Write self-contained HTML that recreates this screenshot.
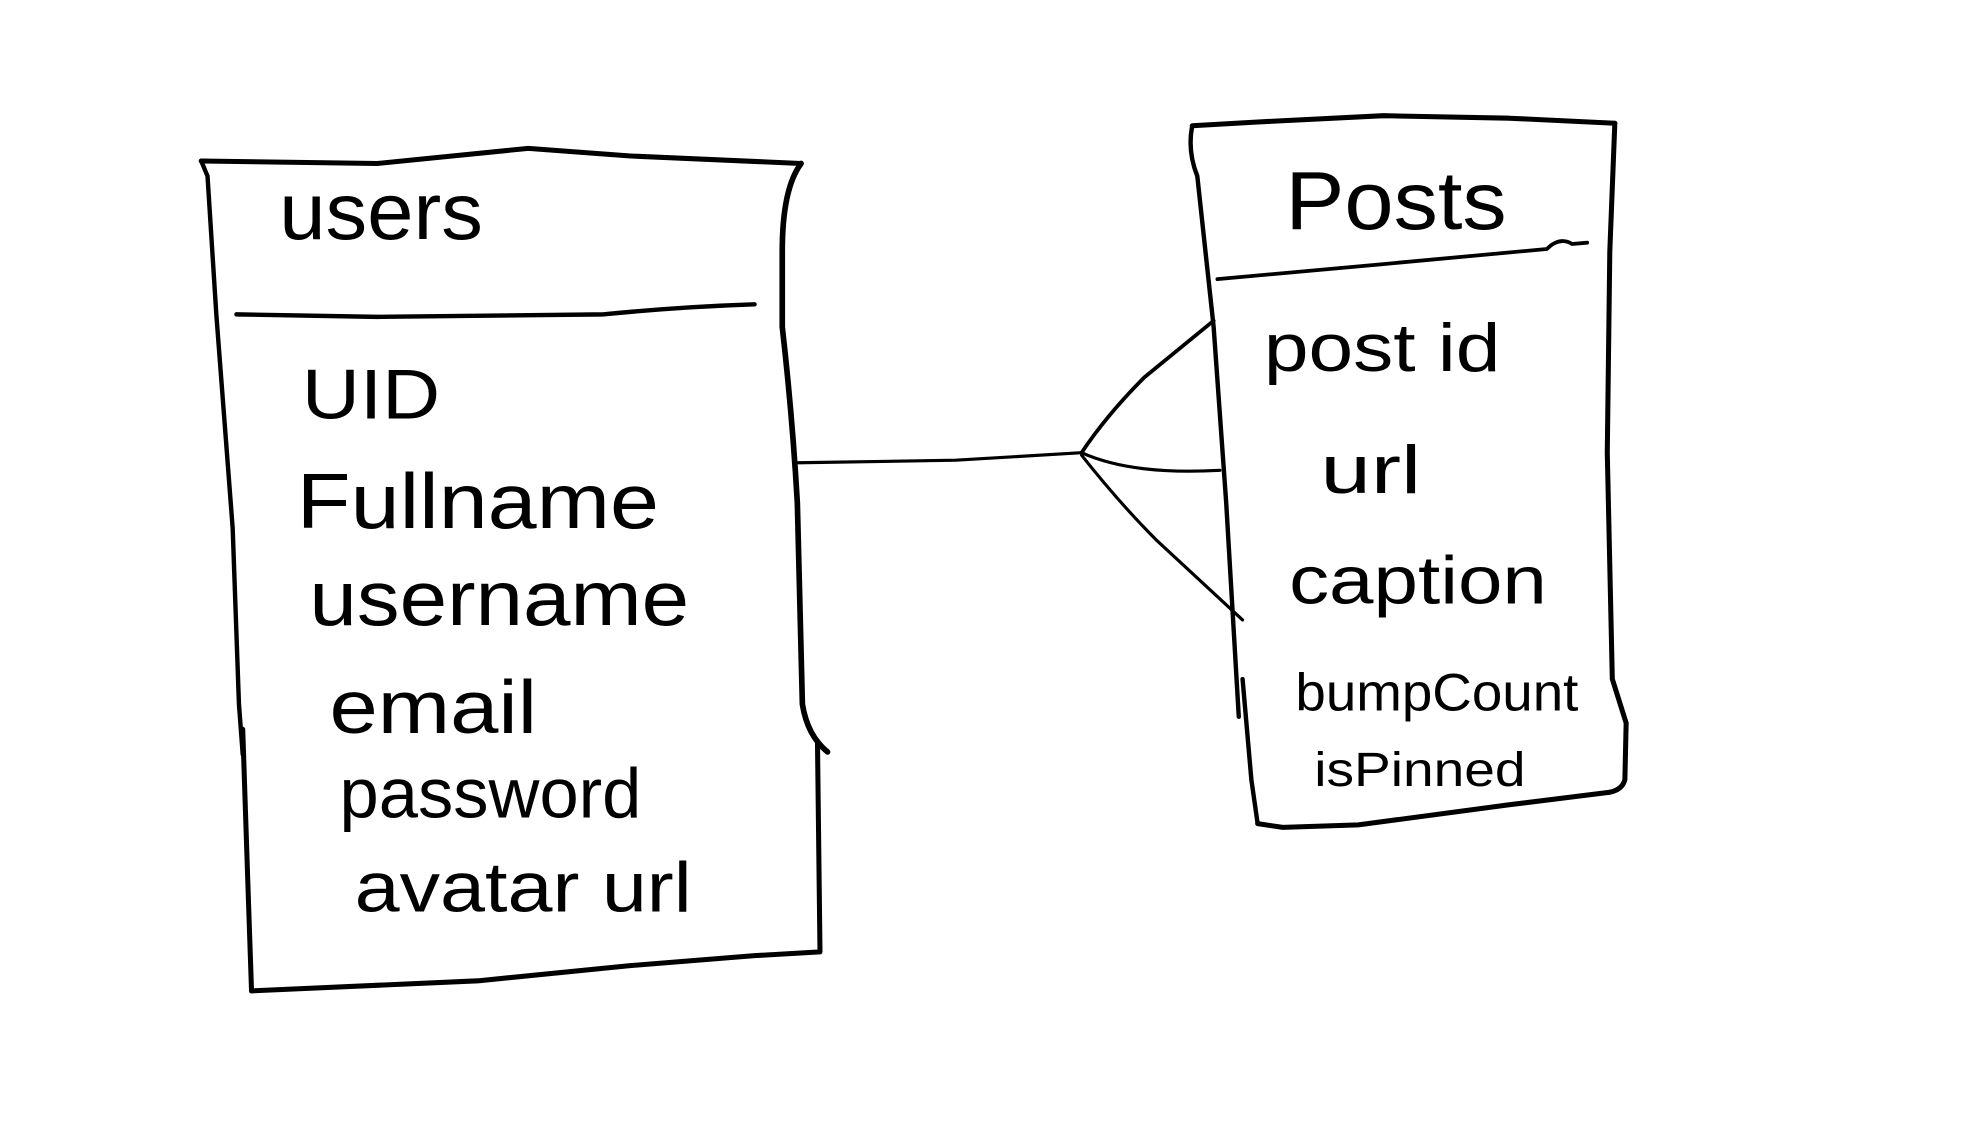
<!DOCTYPE html>
<html><head><meta charset="utf-8"><style>html,body{margin:0;padding:0;background:#fff;}svg{display:block}</style></head>
<body>
<svg width="1972" height="1138" viewBox="0 0 1568 905" preserveAspectRatio="none" xmlns="http://www.w3.org/2000/svg">
<rect width="1568" height="905" fill="#fff"/>
<g fill="none" stroke="#000" stroke-linecap="round" stroke-linejoin="round">
<path d="M160,128 L300,130 L420,118 L500,124 L637,130" stroke-width="4"/>
<path d="M637,130 Q622,150 622,200 L622,260 Q630,330 634,400 L638,560 Q642,585 658,598" stroke-width="4.5"/>
<path d="M650,590 L652,757 L600,760 L500,768 L380,780 L200,788" stroke-width="4"/>
<path d="M160,128 L165,140 L172,250 L185,420 L190,560 L193,600" stroke-width="3.5"/>
<path d="M193,580 L197,700 L200,788" stroke-width="4"/>
<path d="M188,250 L300,252 L480,250 Q540,244 600,242" stroke-width="3.5"/>
<path d="M948,100 L1000,97 L1100,92 L1200,94 L1284,98" stroke-width="4"/>
<path d="M1284,98 L1280,200 L1278,360 L1282,540 L1293,575 L1292,620 Q1290,628 1280,630" stroke-width="4"/>
<path d="M1280,630 L1200,640 L1080,656 L1020,658 L1000,655" stroke-width="4"/>
<path d="M948,100 Q944,120 952,140 L965,260 L975,400 L985,570" stroke-width="3.5"/>
<path d="M988,540 L995,620 L1000,655" stroke-width="3.5"/>
<path d="M968,222 L1100,210 L1230,198 Q1240,188 1250,194 L1262,193" stroke-width="3"/>
<path d="M635,368 L760,366 L860,360" stroke-width="2.5"/>
<path d="M860,360 Q880,330 910,300 L965,255" stroke-width="3"/>
<path d="M860,360 Q900,378 970,374" stroke-width="2.5"/>
<path d="M860,362 Q890,400 920,430 L988,493" stroke-width="2.5"/>
</g>
<g font-family="Liberation Sans, sans-serif" fill="#000">
<text x="222" y="190" font-size="64" textLength="162" lengthAdjust="spacingAndGlyphs">users</text>
<text x="240" y="333" font-size="56" textLength="110" lengthAdjust="spacingAndGlyphs">UID</text>
<text x="236" y="420" font-size="62" textLength="288" lengthAdjust="spacingAndGlyphs">Fullname</text>
<text x="246" y="497" font-size="62" textLength="302" lengthAdjust="spacingAndGlyphs">username</text>
<text x="262" y="583" font-size="60" textLength="165" lengthAdjust="spacingAndGlyphs">email</text>
<text x="270" y="650" font-size="56" textLength="240" lengthAdjust="spacingAndGlyphs">password</text>
<text x="282" y="725" font-size="56" textLength="268" lengthAdjust="spacingAndGlyphs">avatar url</text>
<text x="1022" y="182" font-size="66" textLength="176" lengthAdjust="spacingAndGlyphs">Posts</text>
<text x="1005" y="295" font-size="54" textLength="188" lengthAdjust="spacingAndGlyphs">post id</text>
<text x="1050" y="392" font-size="54" textLength="80" lengthAdjust="spacingAndGlyphs">url</text>
<text x="1025" y="480" font-size="54" textLength="205" lengthAdjust="spacingAndGlyphs">caption</text>
<text x="1030" y="565" font-size="42" textLength="225" lengthAdjust="spacingAndGlyphs">bumpCount</text>
<text x="1045" y="625" font-size="38" textLength="168" lengthAdjust="spacingAndGlyphs">isPinned</text>
</g>
</svg>
</body></html>
